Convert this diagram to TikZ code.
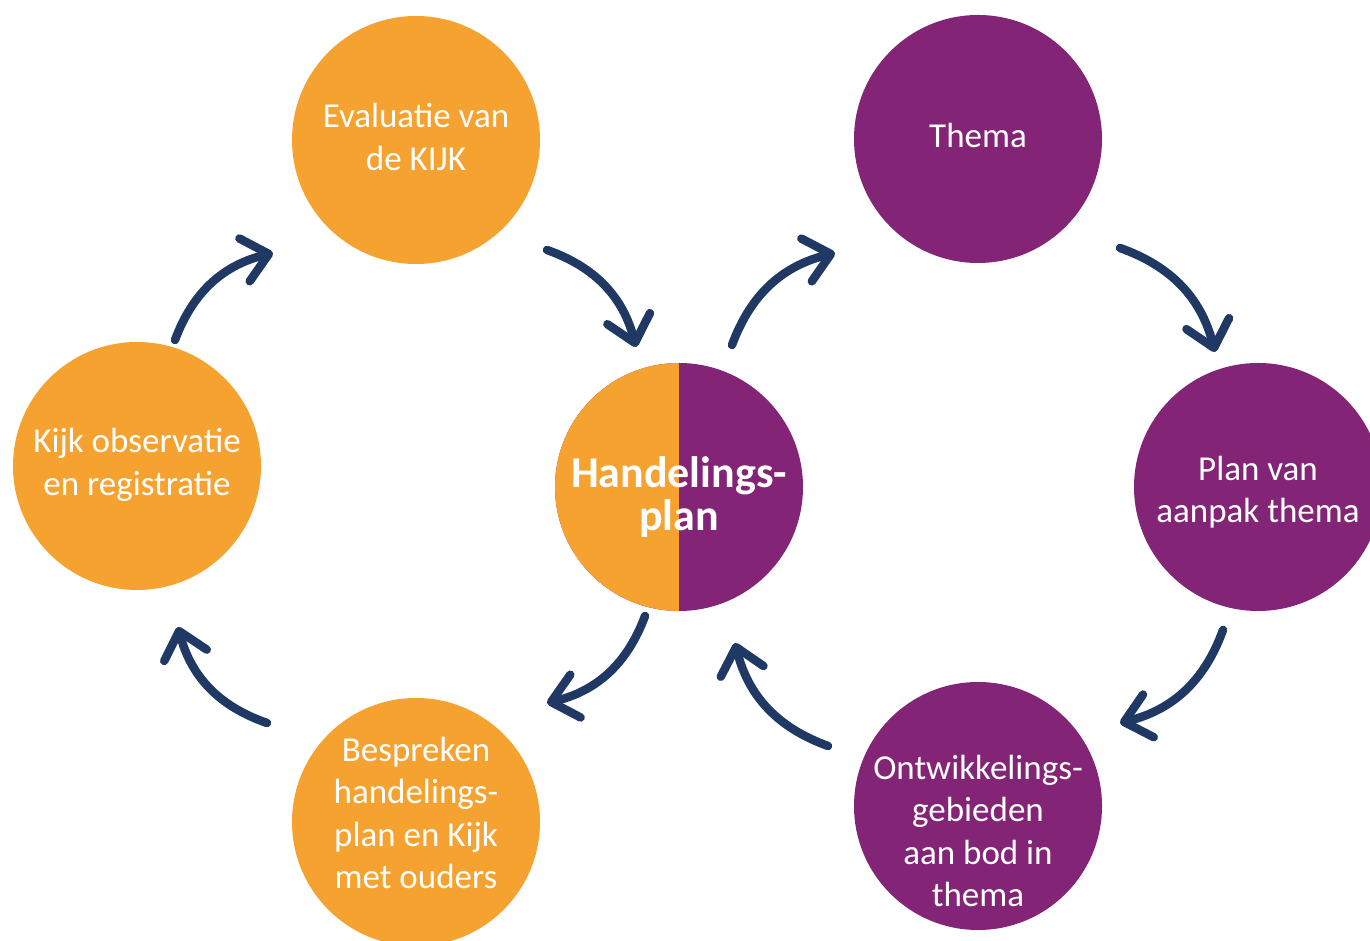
\documentclass[tikz,border=0pt]{standalone}
\usepackage{fontspec}
\setmainfont{Carlito}
\usetikzlibrary{calc,arrows.meta}
\definecolor{orng}{HTML}{F6A230}
\definecolor{purp}{HTML}{832477}
\definecolor{navy}{HTML}{1F3864}
\tikzset{
  bubble/.style={circle,minimum size=248pt,inner sep=0pt,draw=none},
  obub/.style={bubble,fill=orng},
  pbub/.style={bubble,fill=purp},
  txt/.style={text=white,align=center,font=\fontsize{35}{42.5}\selectfont,inner sep=0pt},
  cycarrow/.style={draw=navy,line width=8.5pt,line cap=round,
    -{Straight Barb[length=25pt,width=44pt,round]},bend left=28}
}
\begin{document}
\begin{tikzpicture}[x=1pt,y=1pt]
\useasboundingbox (0,0) rectangle (1370,941);
% circles
\node[obub] (eval) at (416,801) {};
\node[pbub] (thema) at (978,802) {};
\node[obub] (kijk) at (137,475) {};
\node[bubble,fill=purp,path picture={\fill[orng] (path picture bounding box.south west) rectangle (path picture bounding box.north);}] (hp) at (679,454) {};
\node[pbub] (plan) at (1258,454) {};
\node[obub] (bespr) at (416,119) {};
\node[pbub] (ontw) at (978,135) {};
% texts
\node[txt] (evalT) at (416,804) {Evaluatie van\\de KIJK};
\node[txt] (themaT) at (978,806) {Thema};
\node[txt] (kijkT) at (137,476) {Kijk observatie\\en registratie};
\node[txt,font=\fontsize{44}{43}\selectfont\bfseries] (hpT) at (679,444) {Handelings-\\plan};
\node[txt] (planT) at (1258,449) {Plan van\\aanpak thema};
\node[txt] (besprT) at (416,128) {Bespreken\\handelings-\\plan en Kijk\\met ouders};
\node[txt] (ontwT) at (978,110) {Ontwikkelings-\\gebieden\\aan bod in\\thema};
% arrows
\draw[cycarrow] ($(eval)+(131,-110)$) to ($(hp)+(-43,140)$);
\draw[cycarrow] ($(hp)+(53,142)$) to ($(thema)+(-143,-114)$);
\draw[cycarrow] ($(thema)+(142,-109)$) to ($(plan)+(-43,135)$);
\draw[cycarrow] ($(plan)+(-35,-143)$) to ($(ontw)+(142,83)$);
\draw[cycarrow] ($(ontw)+(-150,60)$) to ($(hp)+(56,-156)$);
\draw[cycarrow] ($(hp)+(-34,-129)$) to ($(bespr)+(131,119)$);
\draw[cycarrow] ($(bespr)+(-149,99)$) to ($(kijk)+(41,-161)$);
\draw[cycarrow] ($(kijk)+(38,126)$) to ($(eval)+(-143,-113)$);
\end{tikzpicture}
\end{document}
